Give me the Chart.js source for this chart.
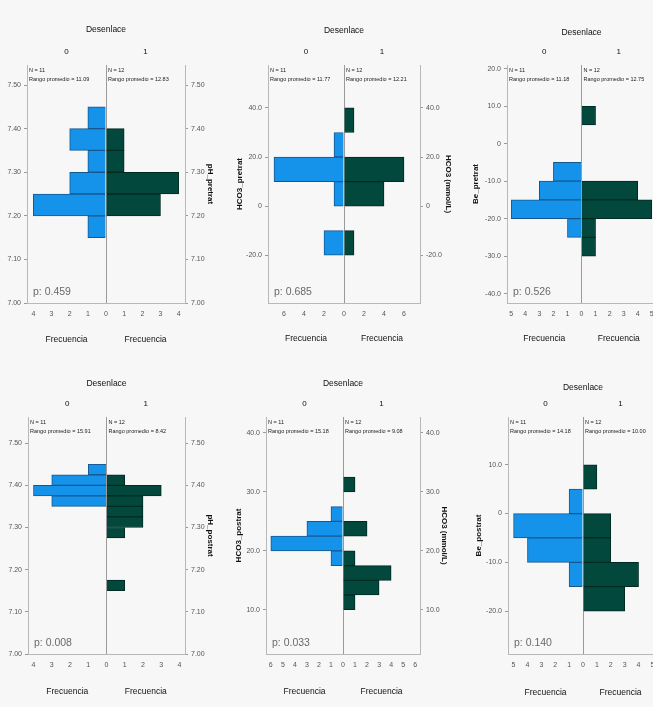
<!DOCTYPE html>
<html>
<head>
<meta charset="utf-8">
<script src="https://cdn.jsdelivr.net/npm/chart.js@4.4.1/dist/chart.umd.min.js"></script>
<style>
  body { margin: 0; background: #f7f7f7; width: 653px; height: 707px; overflow: hidden; position: relative; }
  canvas { position: absolute; }
</style>
</head>
<body>
<canvas id="c1"></canvas>
<canvas id="c2"></canvas>
<canvas id="c3"></canvas>
<canvas id="c4"></canvas>
<canvas id="c5"></canvas>
<canvas id="c6"></canvas>
<script>
// --- datos (Desenlace 0 = azul, Desenlace 1 = verde) ---
const grupos = ['0', '1']
const nGrupo = [11, 12]

// pH pretratamiento
const phPreBins = [7.425, 7.375, 7.325, 7.275, 7.225, 7.175]
const phPreNo = [1, 2, 1, 2, 4, 1]
const phPreSi = [0, 1, 1, 4, 3, 0]
const phPreTicks = [7.0, 7.1, 7.2, 7.3, 7.4, 7.5]
const phPreRango = [11.09, 12.83]
const phPreP = '0.459'

// HCO3 pretratamiento
const hco3PreBins = [35, 25, 15, 5, -5, -15]
const hco3PreNo = [0, 1, 7, 1, 0, 2]
const hco3PreSi = [1, 0, 6, 4, 0, 1]
const hco3PreTicks = [-20, 0, 20, 40]
const hco3PreRango = [11.77, 12.21]
const hco3PreP = '0.685'

// Be pretratamiento
const bePreBins = [7.5, 2.5, -2.5, -7.5, -12.5, -17.5, -22.5, -27.5]
const bePreNo = [0, 0, 0, 2, 3, 5, 1, 0]
const bePreSi = [1, 0, 0, 0, 4, 5, 1, 1]
const bePreTicks = [-40, -30, -20, -10, 0, 10, 20]
const bePreRango = [11.18, 12.75]
const bePreP = '0.526'

// pH postratamiento
const phPostBins = [7.4375, 7.4125, 7.3875, 7.3625, 7.3375, 7.3125, 7.2875, 7.1625]
const phPostNo = [1, 3, 4, 3, 0, 0, 0, 0]
const phPostSi = [0, 1, 3, 2, 2, 2, 1, 1]
const phPostTicks = [7.0, 7.1, 7.2, 7.3, 7.4, 7.5]
const phPostRango = [15.91, 8.42]
const phPostP = '0.008'

// HCO3 postratamiento
const hco3PostBins = [31.25, 28.75, 26.25, 23.75, 21.25, 18.75, 16.25, 13.75, 11.25]
const hco3PostNo = [0, 0, 1, 3, 6, 1, 0, 0, 0]
const hco3PostSi = [1, 0, 0, 2, 0, 1, 4, 3, 1]
const hco3PostTicks = [10, 20, 30, 40]
const hco3PostRango = [15.18, 9.08]
const hco3PostP = '0.033'

// Be postratamiento
const bePostBins = [7.5, 2.5, -2.5, -7.5, -12.5, -17.5]
const bePostNo = [0, 1, 5, 4, 1, 0]
const bePostSi = [1, 0, 2, 2, 4, 3]
const bePostTicks = [-20, -10, 0, 10]
const bePostRango = [14.18, 10.00]
const bePostP = '0.140'

Chart.defaults.font.family = '"Liberation Sans", Arial, sans-serif'
Chart.defaults.color = '#555'

const AZUL = '#1592ea'
const VERDE = '#03483c'

// texto N / rango promedio y p
const textosPanel = {
  id: 'textosPanel',
  afterDatasetsDraw(chart, args, opts) {
    const {ctx, chartArea: {left, top, bottom}, scales: {x}} = chart
    const mid = x.getPixelForValue(0)
    ctx.save()
    ctx.fillStyle = '#222'
    ctx.font = '5.5px "Liberation Sans"'
    ctx.textBaseline = 'middle'
    const xs = [left + 2, mid + 2]
    for (let i = 0; i < 2; i++) {
      ctx.fillText('N = ' + nGrupo[i], xs[i], top + 5)
      ctx.fillText('Rango promedio = ' + opts.rango[i].toFixed(2), xs[i], top + 14)
    }
    ctx.fillStyle = '#6a6a6a'
    ctx.font = '10.5px "Liberation Sans"'
    ctx.fillText('p: ' + opts.p, left + 6, bottom - 11)
    ctx.restore()
  }
}

function piramide(id, d, box) {
  const cv = document.getElementById(id)
  const W = box.wl + box.plotW + box.wr
  const H = box.ht + box.plotH + box.hb1 + box.hb2
  cv.width = W
  cv.height = H
  cv.style.left = box.left + 'px'
  cv.style.top = box.top + 'px'

  const xTicks = []
  for (let v = -d.xMax; v <= d.xMax; v += d.xStep) xTicks.push(v)
  const half = d.xRange / 2
  const tickFont = {size: 7}
  const yAxis = (pos, title, w) => ({
    type: 'linear', position: pos, min: d.yMin, max: d.yMax, offset: false,
    afterBuildTicks: s => { s.ticks = d.ticks.map(t => ({value: t})) },
    ticks: {callback: d.fmt, font: tickFont, color: '#555', padding: 3, autoSkip: false},
    grid: {offset: false, drawOnChartArea: false, tickLength: 3, color: '#9a9a9a'},
    border: {color: '#b8b8b8'},
    title: {display: !!title, text: title || '', color: '#111', font: {size: 8, weight: 'bold'}, padding: {top: 4, bottom: 0}},
    afterFit: s => { s.width = w }
  })

  new Chart(cv, {
    type: 'bar',
    data: {
      datasets: [
        {label: grupos[0], data: d.bins.map((b, i) => ({x: -d.no[i], y: b})),
          backgroundColor: AZUL, borderColor: '#14588f', borderWidth: 1},
        {label: grupos[1], data: d.bins.map((b, i) => ({x: d.si[i], y: b})),
          backgroundColor: VERDE, borderColor: '#012a22', borderWidth: 1}
      ]
    },
    options: {
      responsive: false,
      animation: false,
      indexAxis: 'y',
      grouped: false,
      categoryPercentage: 1,
      barPercentage: 1,
      layout: {padding: 0},
      plugins: {
        legend: {display: false},
        tooltip: {enabled: false},
        textosPanel: {rango: d.rango, p: d.p}
      },
      scales: {
        x: {
          type: 'linear', position: 'bottom', weight: 0, min: -d.xRange, max: d.xRange,
          afterBuildTicks: s => { s.ticks = xTicks.map(t => ({value: t})) },
          ticks: {callback: v => Math.abs(v), font: tickFont, color: '#555', padding: 7, autoSkip: false, maxRotation: 0},
          grid: {drawTicks: false, color: c => (c.tick && c.tick.value === 0) ? '#9a9a9a' : 'rgba(0,0,0,0)'},
          border: {color: '#b8b8b8'},
          afterFit: s => { s.height = box.hb1 }
        },
        xf: {
          type: 'linear', position: 'bottom', weight: 1, min: -d.xRange, max: d.xRange,
          afterBuildTicks: s => { s.ticks = [{value: -half}, {value: half}] },
          ticks: {callback: () => 'Frecuencia', font: {size: 8.5}, color: '#111', padding: box.frecPad, maxRotation: 0},
          grid: {display: false}, border: {display: false},
          afterFit: s => { s.height = box.hb2 }
        },
        xt: {
          type: 'linear', position: 'top', weight: 0, min: -d.xRange, max: d.xRange,
          afterBuildTicks: s => { s.ticks = [{value: -half}, {value: half}] },
          ticks: {callback: v => v < 0 ? grupos[0] : grupos[1], font: {size: 8}, color: '#111', padding: 0, maxRotation: 0},
          grid: {display: false}, border: {display: false},
          title: {display: true, text: 'Desenlace', color: '#111', font: {size: 8.5}, padding: {top: box.titlePad, bottom: 0}},
          afterFit: s => { s.height = box.ht }
        },
        y: yAxis('left', d.leftTitle, box.wl),
        y2: yAxis('right', d.rightTitle, box.wr)
      }
    },
    plugins: [textosPanel]
  })
}

const fmt2 = v => v.toFixed(2)
const fmt1 = v => v === 0 ? '0' : v.toFixed(1)

piramide('c1', {bins: phPreBins, no: phPreNo, si: phPreSi, ticks: phPreTicks, rango: phPreRango, p: phPreP,
  yMin: 7.0, yMax: 7.546, fmt: fmt2, xRange: 4.35, xMax: 4, xStep: 1, rightTitle: 'pH_pretrat'},
  {left: 0, top: 10, wl: 27, plotW: 158, wr: 34, ht: 55, plotH: 238, hb1: 20, hb2: 32, titlePad: 15, frecPad: 4})

piramide('c2', {bins: hco3PreBins, no: hco3PreNo, si: hco3PreSi, ticks: hco3PreTicks, rango: hco3PreRango, p: hco3PreP,
  yMin: -39.5, yMax: 57.5, fmt: fmt1, xRange: 7.6, xMax: 6, xStep: 2, leftTitle: 'HCO3_pretrat', rightTitle: 'HCO3 (mmol/L)'},
  {left: 231, top: 10, wl: 37, plotW: 152, wr: 37, ht: 55, plotH: 238, hb1: 20, hb2: 32, titlePad: 16, frecPad: 3})

piramide('c3', {bins: bePreBins, no: bePreNo, si: bePreSi, ticks: bePreTicks, rango: bePreRango, p: bePreP,
  yMin: -42.5, yMax: 21, fmt: fmt1, xRange: 5.3, xMax: 5, xStep: 1, leftTitle: 'Be_pretrat'},
  {left: 467, top: 10, wl: 40, plotW: 149, wr: 30, ht: 55, plotH: 238, hb1: 20, hb2: 32, titlePad: 18, frecPad: 3})

piramide('c4', {bins: phPostBins, no: phPostNo, si: phPostSi, ticks: phPostTicks, rango: phPostRango, p: phPostP,
  yMin: 7.0, yMax: 7.562, fmt: fmt2, xRange: 4.3, xMax: 4, xStep: 1, rightTitle: 'pH_postrat'},
  {left: 0, top: 362, wl: 28, plotW: 157, wr: 34, ht: 55, plotH: 237, hb1: 20, hb2: 32, titlePad: 17, frecPad: 5})

piramide('c5', {bins: hco3PostBins, no: hco3PostNo, si: hco3PostSi, ticks: hco3PostTicks, rango: hco3PostRango, p: hco3PostP,
  yMin: 2.5, yMax: 42.7, fmt: fmt1, xRange: 6.4, xMax: 6, xStep: 1, leftTitle: 'HCO3_postrat', rightTitle: 'HCO3 (mmol/L)'},
  {left: 230, top: 362, wl: 36, plotW: 154, wr: 33, ht: 55, plotH: 237, hb1: 20, hb2: 32, titlePad: 17, frecPad: 5})

piramide('c6', {bins: bePostBins, no: bePostNo, si: bePostSi, ticks: bePostTicks, rango: bePostRango, p: bePostP,
  yMin: -28.8, yMax: 19.8, fmt: fmt1, xRange: 5.4, xMax: 5, xStep: 1, leftTitle: 'Be_postrat'},
  {left: 470, top: 362, wl: 38, plotW: 150, wr: 30, ht: 55, plotH: 237, hb1: 20, hb2: 32, titlePad: 21, frecPad: 6})
</script>
</body>
</html>
